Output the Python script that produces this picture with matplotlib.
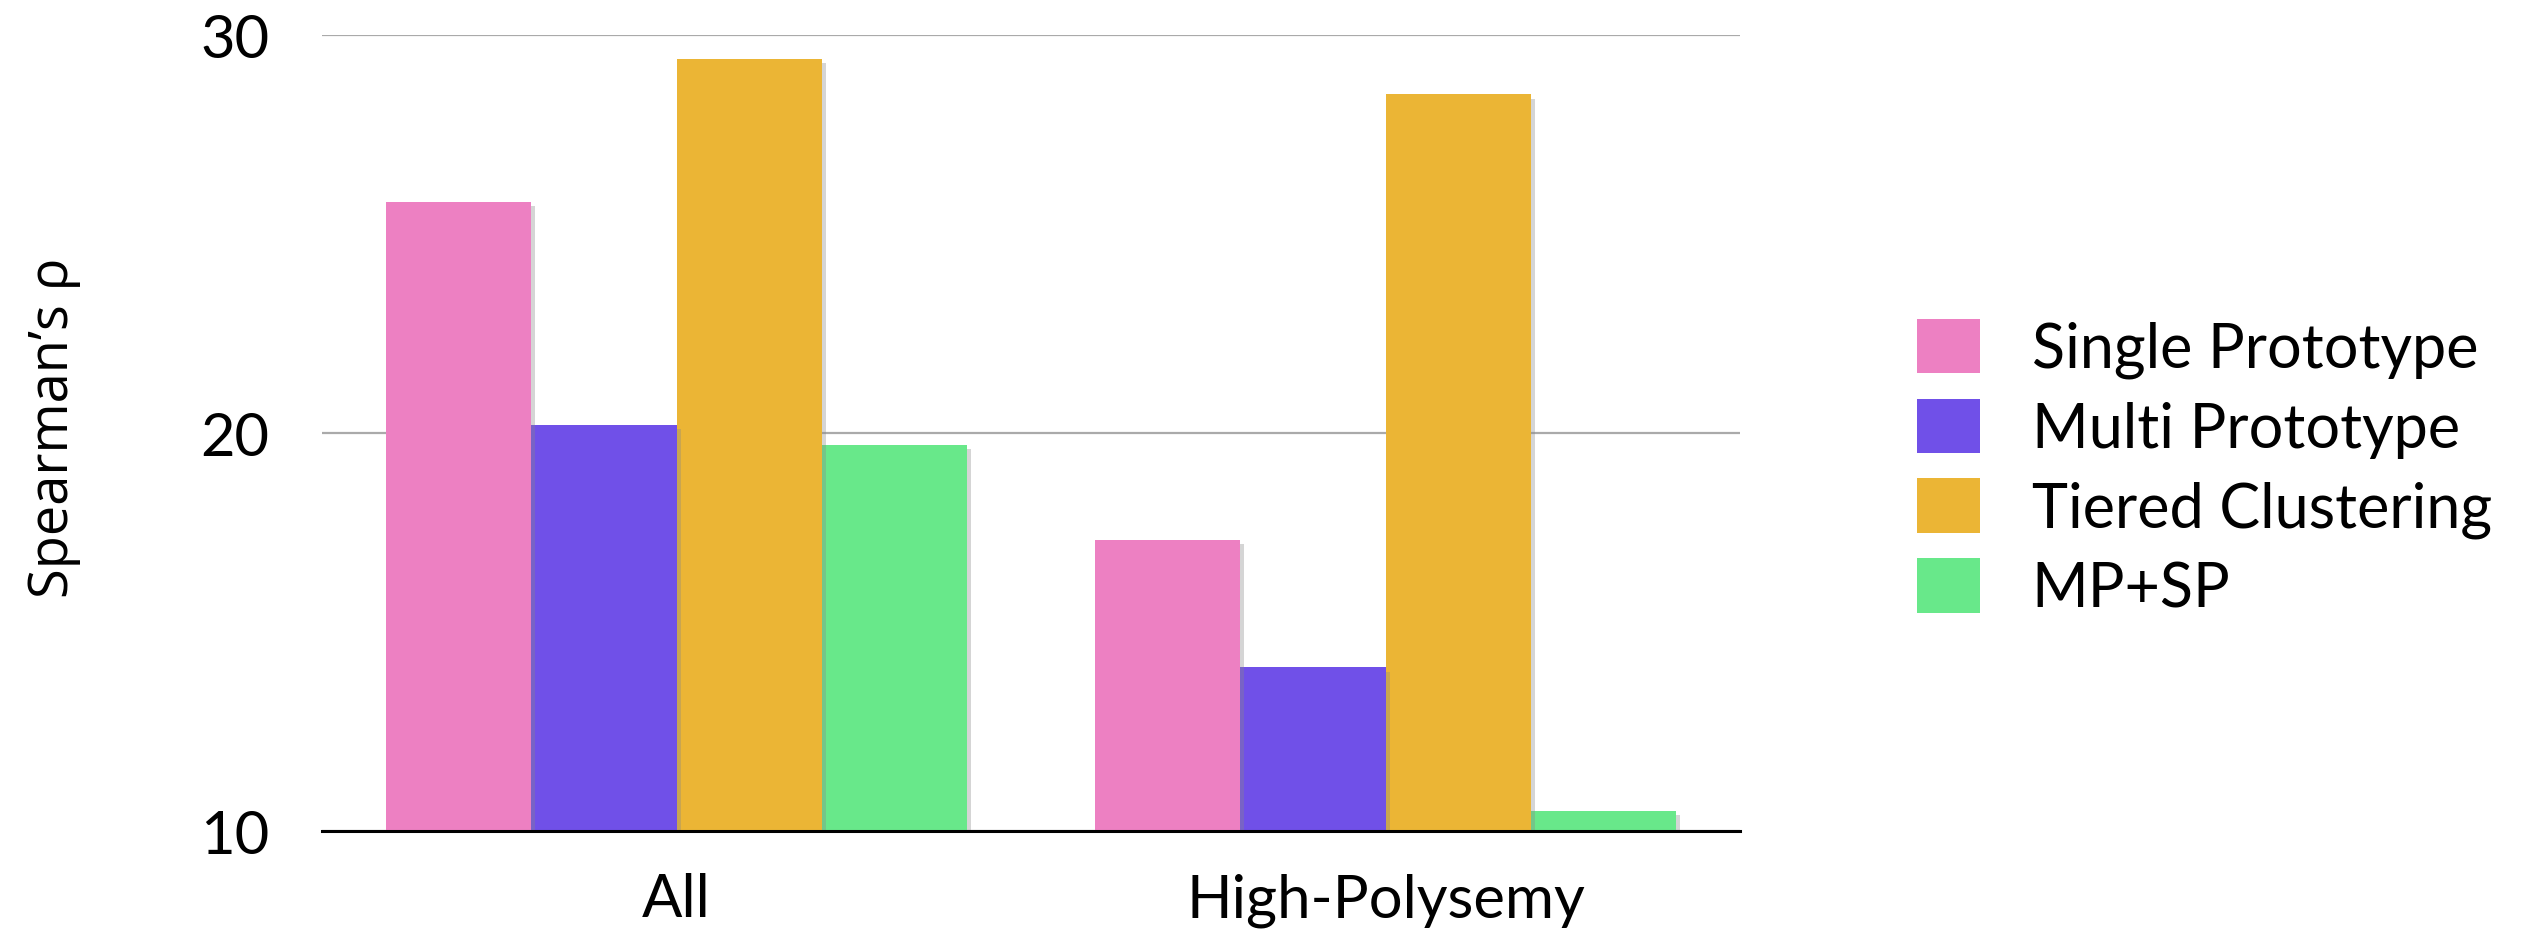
import matplotlib
matplotlib.use("Agg")
import matplotlib.pyplot as plt
import matplotlib.patheffects as pe
import numpy as np

groups = ["All", "High-Polysemy"]
series = ["Single Prototype", "Multi Prototype", "Tiered Clustering", "MP+SP"]
single_proto = [25.8, 17.3]
multi_proto = [20.2, 14.1]
tiered = [29.4, 28.5]
mp_sp = [19.7, 10.5]
colors = ["#ED80C2", "#7050E8", "#EBB535", "#68E88A"]
yticks = [10, 20, 30]

fig = plt.figure(figsize=(25.42, 9.37), dpi=100)
ax = fig.add_axes([0.1267, 0.1125, 0.5578, 0.8494])

x = np.arange(len(groups))
w = 0.205
shadow = [pe.SimplePatchShadow(offset=(3, -3), shadow_rgbFace="#888888", alpha=0.35), pe.Normal()]
for i, (vals, name) in enumerate(zip([single_proto, multi_proto, tiered, mp_sp], series)):
    bars = ax.bar(x + (i - 1.5) * w, np.array(vals) - 10, w, bottom=10,
                  color=colors[i], label=name, zorder=3 + (3 - i) * 0.01)
    for b in bars:
        b.set_path_effects(shadow)

ax.set_xlim(-0.5, 1.5)
ax.set_ylim(10, 30)
ax.set_yticks(yticks)
ax.set_xticks(x)
ax.set_xticklabels(groups, family="Lato", fontsize=43)
ax.set_yticklabels([str(t) for t in yticks], family="Lato", fontsize=43)
ax.tick_params(length=0)
ax.tick_params(axis="y", pad=38)
ax.tick_params(axis="x", pad=30)
ax.yaxis.grid(True, color="#AAAAAA", linewidth=1.6, zorder=1)
ax.set_axisbelow(True)
for s in ["left", "right", "top"]:
    ax.spines[s].set_visible(False)
ax.spines["bottom"].set_linewidth(2.2)
ax.spines["bottom"].set_zorder(5)

ax.set_ylabel("Spearman\u2019s \u03c1", family="Open Sans", fontsize=39)
ax.yaxis.set_label_coords(-0.17, 0.507)

handles, labels = ax.get_legend_handles_labels()
leg = fig.legend(handles, labels, loc="center left", bbox_to_anchor=(0.754, 0.4995),
                 frameon=False, prop={"family": "Lato", "size": 44},
                 handlelength=1.03, handleheight=1.0, handletextpad=0.85,
                 labelspacing=0.33, borderpad=0, borderaxespad=0)
for h in leg.legend_handles:
    h.set_path_effects([])

fig.savefig("out.png", dpi=100)
